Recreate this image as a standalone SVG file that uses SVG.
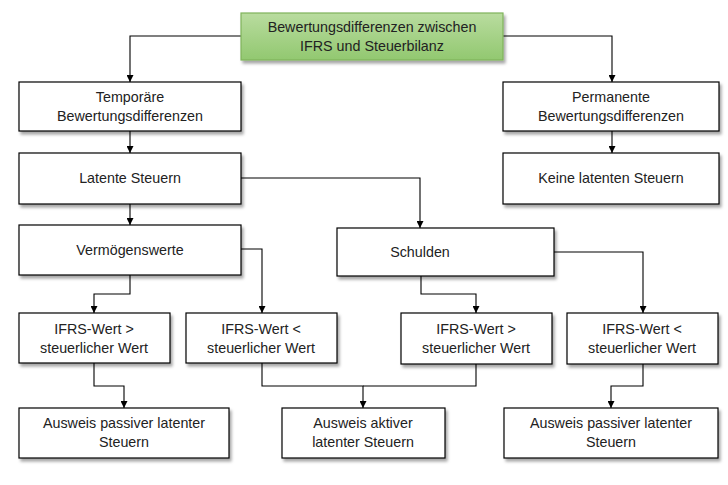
<svg xmlns="http://www.w3.org/2000/svg" width="728" height="485" viewBox="0 0 728 485">
<style>
.box{fill:#fff;stroke:#000;stroke-width:1.2;filter:url(#sh)}
.top{fill:url(#g);stroke:#7fb35a;stroke-width:1.2;filter:url(#sh)}
text{font-family:"Liberation Sans",Arial,sans-serif;font-size:14.3px;fill:#222;text-anchor:middle}
.c{fill:none;stroke:#000;stroke-width:1.1;marker-end:url(#a)}
.l{fill:none;stroke:#000;stroke-width:1.1}
</style>
<defs>
<linearGradient id="g" x1="0" y1="0" x2="0" y2="1"><stop offset="0" stop-color="#b9dc9f"/><stop offset="1" stop-color="#92c870"/></linearGradient>
<filter id="sh" x="-10%" y="-20%" width="130%" height="160%"><feDropShadow dx="2" dy="3" stdDeviation="1.5" flood-color="#000" flood-opacity="0.35"/></filter>
<marker id="a" viewBox="0 0 10 10" refX="10" refY="5" markerWidth="7" markerHeight="7" markerUnits="userSpaceOnUse" orient="auto"><path d="M0,0L10,5L0,10z" fill="#000"/></marker>
</defs>
<g id="connectors">
<path class="c" d="M241,36H130V82"/>
<path class="c" d="M503,36H612V82"/>
<path class="c" d="M130,131V153"/>
<path class="c" d="M612,131V153"/>
<path class="c" d="M130,204V225"/>
<path class="c" d="M241,178H420V228"/>
<path class="c" d="M130,275V294H94V313"/>
<path class="c" d="M241,249H262V313"/>
<path class="c" d="M421,276V294H476V313"/>
<path class="c" d="M554,252H643V313"/>
<path class="c" d="M94,363V386H124V408"/>
<path class="c" d="M262,363V386H363V408"/>
<path class="l" d="M476,364V386H363"/>
<path class="c" d="M643,364V386H611V408"/>
</g>
<g id="n0"><rect class="top" x="241" y="13" width="262" height="47"/><text x="372" y="32">Bewertungsdifferenzen zwischen</text><text x="372" y="51">IFRS und Steuerbilanz</text></g>
<g id="n1"><rect class="box" x="19" y="82" width="222" height="49"/><text x="130" y="102">Temporäre</text><text x="130" y="121">Bewertungsdifferenzen</text></g>
<g id="n2"><rect class="box" x="503" y="82" width="216" height="49"/><text x="611" y="102">Permanente</text><text x="611" y="121">Bewertungsdifferenzen</text></g>
<g id="n3"><rect class="box" x="19" y="153" width="222" height="51"/><text x="130" y="183">Latente Steuern</text></g>
<g id="n4"><rect class="box" x="503" y="153" width="216" height="51"/><text x="611" y="183">Keine latenten Steuern</text></g>
<g id="n5"><rect class="box" x="19" y="225" width="222" height="50"/><text x="130" y="255">Vermögenswerte</text></g>
<g id="n6"><rect class="box" x="337" y="228" width="217" height="48"/><text x="420" y="257">Schulden</text></g>
<g id="n7"><rect class="box" x="19" y="313" width="151" height="50"/><text x="94" y="334">IFRS-Wert &gt;</text><text x="94" y="353">steuerlicher Wert</text></g>
<g id="n8"><rect class="box" x="186" y="313" width="151" height="50"/><text x="261" y="334">IFRS-Wert &lt;</text><text x="261" y="353">steuerlicher Wert</text></g>
<g id="n9"><rect class="box" x="401" y="313" width="151" height="51"/><text x="476" y="334">IFRS-Wert &gt;</text><text x="476" y="353">steuerlicher Wert</text></g>
<g id="n10"><rect class="box" x="567" y="313" width="151" height="51"/><text x="642" y="334">IFRS-Wert &lt;</text><text x="642" y="353">steuerlicher Wert</text></g>
<g id="n11"><rect class="box" x="19" y="408" width="210" height="50"/><text x="124" y="428">Ausweis passiver latenter</text><text x="124" y="447">Steuern</text></g>
<g id="n12"><rect class="box" x="282" y="408" width="163" height="50"/><text x="363" y="428">Ausweis aktiver</text><text x="363" y="447">latenter Steuern</text></g>
<g id="n13"><rect class="box" x="504" y="408" width="214" height="50"/><text x="611" y="428">Ausweis passiver latenter</text><text x="611" y="447">Steuern</text></g>
</svg>
